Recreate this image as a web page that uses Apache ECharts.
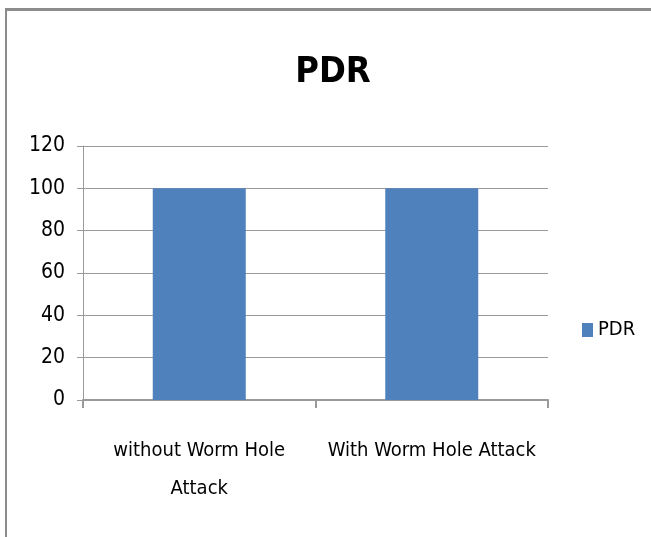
<!DOCTYPE html>
<html><head><meta charset="utf-8">
<script src="https://cdn.jsdelivr.net/npm/echarts@6/dist/echarts.min.js"></script>
<style>
html,body{margin:0;padding:0;background:#fff;}
#frame{position:absolute;left:5px;top:8px;width:660px;height:540px;border-left:2px solid #8c8c8c;border-top:3px solid #8c8c8c;box-sizing:border-box;}
#c{position:absolute;left:0;top:0;width:651px;height:537px;}
</style></head>
<body>
<div id="frame"></div>
<div id="c"></div>
<script>
var categories = ['without Worm Hole\nAttack', 'With Worm Hole Attack'];
var pdrValues = [100, 100];
var yTicks = [0, 20, 40, 60, 80, 100, 120];
var seriesName = 'PDR';
var titleText = 'PDR';

var FONT = '"DejaVu Sans Condensed", "Liberation Sans Narrow", sans-serif';
var chart = echarts.init(document.getElementById('c'), null, {renderer: 'canvas'});
chart.setOption({
  animation: false,
  backgroundColor: 'transparent',
  title: {
    text: titleText, left: 328, top: 50, textAlign: 'center',
    textStyle: {fontFamily: FONT, fontWeight: 'bold', fontSize: 36, color: '#000'}
  },
  legend: {
    data: [seriesName], orient: 'vertical', left: 577, top: 315,
    icon: 'rect', itemWidth: 11, itemHeight: 14, itemGap: 6,
    textStyle: {fontFamily: FONT, fontSize: 20, color: '#000'}
  },
  grid: {left: 83, right: 103, top: 146, bottom: 137, containLabel: false},
  xAxis: {
    type: 'category', data: categories,
    axisLine: {lineStyle: {color: '#9a9a9a', width: 2}},
    axisTick: {show: true, alignWithLabel: false, length: 8, lineStyle: {color: '#9a9a9a', width: 2}},
    axisLabel: {fontFamily: FONT, fontSize: 20, color: '#000', margin: 32, lineHeight: 38, interval: 0}
  },
  yAxis: {
    type: 'value', min: yTicks[0], max: yTicks[yTicks.length - 1], interval: 20,
    axisLine: {show: true, lineStyle: {color: '#9a9a9a', width: 1}},
    axisTick: {show: true, length: 6, lineStyle: {color: '#9a9a9a', width: 1}},
    splitLine: {lineStyle: {color: '#9a9a9a', width: 1}},
    axisLabel: {fontFamily: FONT, fontSize: 21, color: '#000', margin: 18}
  },
  series: [{
    name: seriesName, type: 'bar', data: pdrValues, barWidth: '40%',
    itemStyle: {color: '#4F81BD'}
  }]
});
</script>
</body></html>
